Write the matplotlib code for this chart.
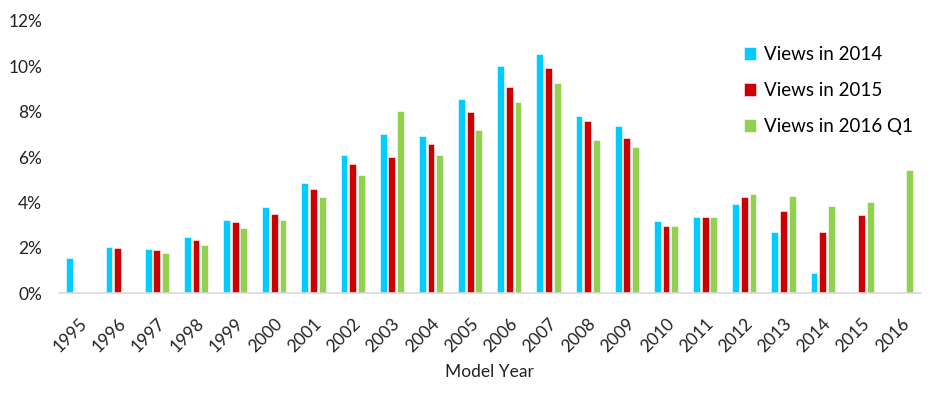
import numpy as np
import matplotlib
matplotlib.use("Agg")
import matplotlib.pyplot as plt
from matplotlib.ticker import FuncFormatter

years = ["1995", "1996", "1997", "1998", "1999", "2000", "2001", "2002", "2003", "2004", "2005",
         "2006", "2007", "2008", "2009", "2010", "2011", "2012", "2013", "2014", "2015", "2016"]
views_2014 = [1.57, 2.04, 1.95, 2.47, 3.24, 3.80, 4.86, 6.08, 7.02, 6.94, 8.56,
              10.00, 10.54, 7.80, 7.37, 3.19, 3.35, 3.93, 2.70, 0.89, np.nan, np.nan]
views_2015 = [np.nan, 1.98, 1.91, 2.35, 3.15, 3.51, 4.61, 5.71, 6.00, 6.59, 7.99,
              9.06, 9.93, 7.58, 6.84, 2.95, 3.35, 4.23, 3.63, 2.70, 3.46, np.nan]
views_2016q1 = [np.nan, np.nan, 1.78, 2.11, 2.86, 3.24, 4.24, 5.20, 8.03, 6.08, 7.19,
                8.41, 9.26, 6.75, 6.46, 2.95, 3.37, 4.37, 4.29, 3.85, 4.02, 5.42]
series_names = ["Views in 2014", "Views in 2015", "Views in 2016 Q1"]
colors = ["#00CCFF", "#CC0000", "#92D050"]

plt.rcParams['font.family'] = ['Lato', 'DejaVu Sans']

fig = plt.figure(figsize=(9.5, 3.93), dpi=100)
ax = fig.add_axes([0.062, 0.2537, 0.907, 0.6936])

x = np.arange(len(years))
pitch = 0.222
width = 0.175
for i, (vals, name, c) in enumerate(zip([views_2014, views_2015, views_2016q1], series_names, colors)):
    ax.bar(x + (i - 1) * pitch, vals, width=width, color=c, label=name,
           edgecolor='white', linewidth=0.4)

ax.set_xlim(-0.5, len(years) - 0.5)
ax.set_ylim(0, 12)
ax.set_yticks(np.arange(0, 13, 2))
ax.yaxis.set_major_formatter(FuncFormatter(lambda v, p: f"{v:.0f}%"))
ax.set_xticks(x)
ax.set_xticklabels(years, rotation=45, ha='right', rotation_mode='anchor')

for s in ['top', 'right', 'left']:
    ax.spines[s].set_visible(False)
ax.spines['bottom'].set_color('#D9D9D9')
ax.spines['bottom'].set_linewidth(1.2)
ax.tick_params(axis='y', length=0, pad=12, labelsize=12.5, labelcolor='#222222')
ax.tick_params(axis='x', length=0, pad=16, labelsize=12.5, labelcolor='#222222')
ax.set_xlabel("Model Year", fontsize=12.5, color='#222222', labelpad=6)

leg = ax.legend(loc='upper left', bbox_to_anchor=(0.786, 0.935), frameon=False,
                fontsize=13.5, handlelength=0.65, handleheight=0.65, handletextpad=0.45,
                labelspacing=1.02, borderaxespad=0)

fig.savefig("out.png", dpi=100)
